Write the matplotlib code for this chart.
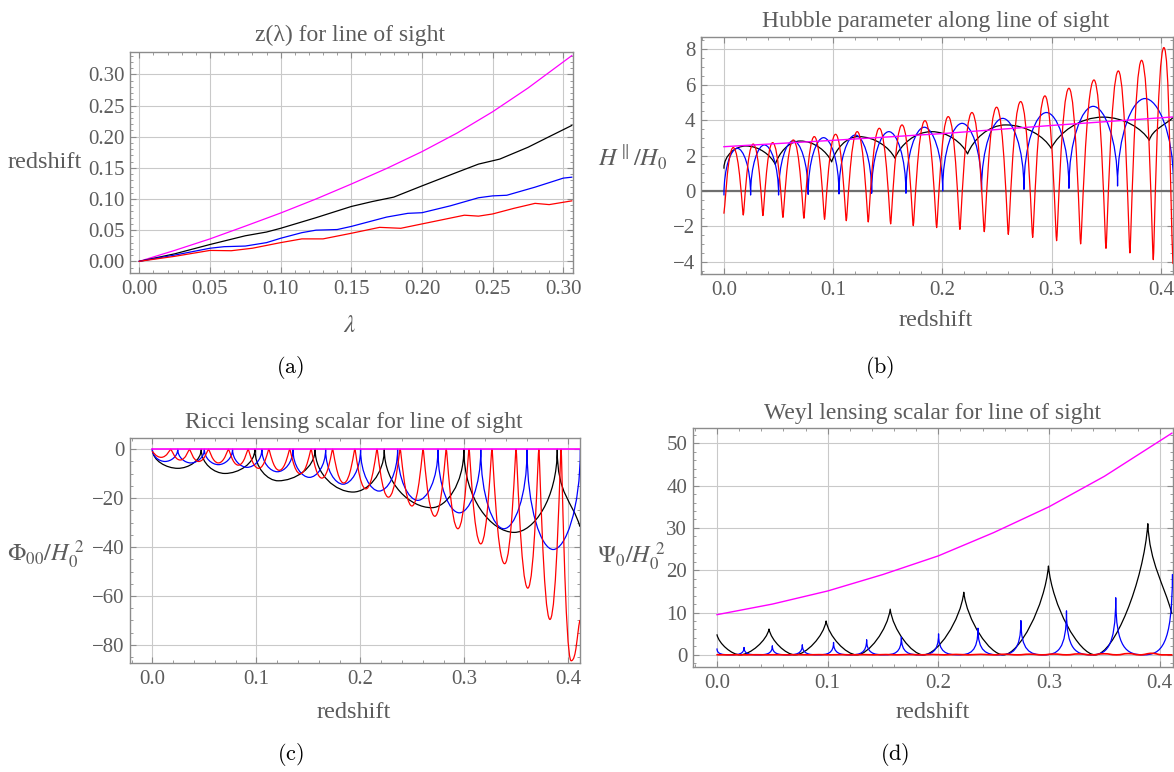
import matplotlib
matplotlib.use("Agg")
import matplotlib.pyplot as plt
from matplotlib.path import Path
from matplotlib.patches import PathPatch
from matplotlib.ticker import MultipleLocator, FormatStrFormatter

plt.rcParams['font.family'] = ['Liberation Serif', 'DejaVu Serif']
plt.rcParams['mathtext.fontset'] = 'stix'

# ---------------- (a) z(lambda) ----------------
lam_mag = [0.0, 0.025, 0.05, 0.075, 0.10, 0.125, 0.15, 0.175, 0.20, 0.225, 0.25, 0.275, 0.30, 0.306]
z_mag = [0.0, 0.0175, 0.036, 0.0565, 0.0775, 0.100, 0.124, 0.149, 0.176, 0.206, 0.240, 0.278, 0.320, 0.330]

lam_blk = [0.0, 0.025, 0.05, 0.075, 0.09, 0.10, 0.125, 0.15, 0.165, 0.18, 0.20, 0.225, 0.24, 0.255, 0.275, 0.29, 0.306]
z_blk = [0.0, 0.012, 0.027, 0.041, 0.047, 0.053, 0.070, 0.088, 0.096, 0.103, 0.121, 0.143, 0.156, 0.164, 0.183, 0.200, 0.218]

lam_blu = [0.0, 0.025, 0.05, 0.06, 0.075, 0.09, 0.10, 0.115, 0.125, 0.14, 0.15, 0.175, 0.19, 0.20,
           0.22, 0.24, 0.25, 0.26, 0.28, 0.30, 0.306]
z_blu = [0.0, 0.010, 0.021, 0.0235, 0.0245, 0.030, 0.037, 0.046, 0.050, 0.051, 0.056, 0.071, 0.077, 0.078,
         0.089, 0.102, 0.105, 0.106, 0.119, 0.1335, 0.135]

lam_red = [0.0, 0.025, 0.05, 0.065, 0.08, 0.10, 0.115, 0.13, 0.15, 0.17, 0.185, 0.20, 0.23, 0.24, 0.25,
           0.265, 0.28, 0.29, 0.306]
z_red = [0.0, 0.008, 0.0175, 0.017, 0.021, 0.030, 0.036, 0.036, 0.045, 0.0545, 0.053, 0.060, 0.074, 0.0725,
         0.076, 0.085, 0.093, 0.091, 0.097]

# ---------------- shared redshift positions ----------------
z_end = 0.411

# red: where H dips (narrow) and where it tops out
red_dip_z = [0.0, 0.0177, 0.0357, 0.054, 0.0732, 0.0921, 0.1120, 0.1321, 0.1526, 0.1733,
             0.1947, 0.2160, 0.2383, 0.2603, 0.2826, 0.3045, 0.3265, 0.3497, 0.3716, 0.3930]
red_top_z = [0.0085, 0.0268, 0.0446, 0.0635, 0.0827, 0.1022, 0.1220, 0.1422, 0.1630, 0.1840,
             0.2053, 0.2270, 0.2496, 0.2716, 0.2938, 0.3158, 0.3387, 0.3610, 0.3823, 0.4027]
# blue: cusps and arch tops
blue_cusp_z = [0.0, 0.0244, 0.0500, 0.0771, 0.1053, 0.1352, 0.1666, 0.2002, 0.2358, 0.2746,
               0.3158, 0.3603, 0.4115]
blue_arch_z = [0.0122, 0.0370, 0.0635, 0.0912, 0.1202, 0.1510, 0.1834, 0.2180, 0.2552, 0.2952,
               0.3380, 0.3854]
# black: cusps
black_cusp_z = [0.0470, 0.0986, 0.1565, 0.2230, 0.2995, 0.3893]

# ---------------- (b) Hubble parameter ----------------
H_red_dip = [-1.26, -1.36, -1.39, -1.49, -1.54, -1.60, -1.68, -1.75, -1.86, -1.96,
             -2.07, -2.17, -2.30, -2.45, -2.62, -2.81, -2.99, -3.24, -3.50, -3.88]
H_red_top = [2.45, 2.65, 2.73, 2.88, 3.07, 3.20, 3.35, 3.54, 3.73, 3.97,
             4.20, 4.43, 4.73, 5.05, 5.37, 5.80, 6.27, 6.78, 7.38, 8.10]
H_red_end = -4.1
H_blue_cusp = [-0.23, -0.23, -0.23, -0.19, -0.17, -0.13, -0.13, 0.0, 0.06, 0.09, 0.15, 0.28, 0.40]
H_blue_arch = [2.41, 2.60, 2.84, 3.01, 3.16, 3.35, 3.60, 3.82, 4.10, 4.43, 4.78, 5.22]
H_black_top_z = [0.020, 0.0698, 0.123, 0.190, 0.258, 0.347]
H_black_top = [2.54, 2.82, 3.07, 3.35, 3.73, 4.17]
H_black_cusp = [1.50, 1.64, 1.85, 2.09, 2.41, 2.86]
H_black_ends = [1.28, 4.14]
H_mag_z = [0.0, 0.1, 0.2, 0.3, 0.411]
H_mag = [2.50, 2.86, 3.24, 3.70, 4.18]

# ---------------- (c) Ricci lensing scalar ----------------
Phi_red_cap = [-1.0] + [0.0] * 19
Phi_red_min = [-3.3, -4.4, -5.0, -5.6, -6.5, -7.8, -8.6, -10.0, -11.8, -13.8,
               -16.2, -19.6, -23.2, -27.4, -32.5, -38.7, -46.8, -56.8, -69.6, -86.5]
Phi_red_end = -70.0
Phi_blue_min = [-5.0, -5.6, -6.3, -7.4, -9.2, -11.5, -14.3, -17.1, -20.9, -26.0, -32.5, -41.0]
Phi_black_min_z = [0.0246, 0.0698, 0.1210, 0.1930, 0.2686, 0.3480]
Phi_black_min = [-7.8, -9.9, -12.9, -17.5, -23.9, -34.0]
Phi_black_ends = [0.0, -31.5]

# ---------------- (d) Weyl lensing scalar ----------------
Psi_red_bump = [0.02, 0.02, 0.03, 0.03, 0.04, 0.05, 0.05, 0.06, 0.07, 0.08,
                0.09, 0.10, 0.12, 0.14, 0.16, 0.19, 0.22, 0.26, 0.30, 0.36]
Psi_blue_spike = [1.43, 1.75, 2.14, 2.38, 2.94, 3.57, 4.20, 4.96, 6.30, 8.10, 10.4, 13.5, 19.0]
Psi_black_min_z = [0.0208, 0.0705, 0.1263, 0.1865, 0.2588, 0.3418]
Psi_black_peak = [6.1, 8.0, 10.8, 14.8, 21.0, 31.0]
Psi_black_ends = [4.76, 9.8]
Psi_mag_z = [0.0, 0.05, 0.10, 0.15, 0.20, 0.25, 0.30, 0.35, 0.411]
Psi_mag = [9.5, 12.0, 15.1, 19.0, 23.4, 28.9, 35.0, 42.2, 52.4]

# tangent handles (fraction of dx, fraction of dy) for each knot style
SHAPE = {
    'h': (0.45, 0.0),   # rounded extremum
    'w': (0.6, 0.0),    # broad rounded extremum
    'n': (0.08, 0.0),   # narrow rounded extremum
    'm': (0.35, 0.0),
    'v': (0.0, 0.6),    # cusp, vertical tangent
    'k': (0.15, 0.5),   # V-shaped dip
    'p': (0.08, 0.45),  # sharp peak
    'q': (0.0, 0.9),    # needle spike
    'l': (1 / 3, 1 / 3),
}

GRAY = '#5c5c5c'
FRAME = '#8c8c8c'
W, Hpx = 1174, 772


def weave(a, b):
    out = []
    for i in range(max(len(a), len(b))):
        if i < len(a):
            out.append(a[i])
        if i < len(b):
            out.append(b[i])
    return out


def arches(ax, xs, ys, kinds, color, lw=0.9, z=3):
    verts = [(xs[0], ys[0])]
    codes = [Path.MOVETO]
    for i in range(len(xs) - 1):
        dx = xs[i + 1] - xs[i]
        dy = ys[i + 1] - ys[i]
        ax_, ay_ = SHAPE[kinds[i]]
        bx_, by_ = SHAPE[kinds[i + 1]]
        verts += [(xs[i] + ax_ * dx, ys[i] + ay_ * dy),
                  (xs[i + 1] - bx_ * dx, ys[i + 1] - by_ * dy),
                  (xs[i + 1], ys[i + 1])]
        codes += [Path.CURVE4] * 3
    ax.add_patch(PathPatch(Path(verts, codes), fill=False, ec=color, lw=lw, zorder=z,
                           joinstyle='round', capstyle='round'))


def frame(ax, xlim, ylim, xmaj, xmin, ymaj, ymin, xfmt, yfmt=None):
    ax.set_xlim(*xlim)
    ax.set_ylim(*ylim)
    ax.xaxis.set_major_locator(MultipleLocator(xmaj))
    ax.xaxis.set_minor_locator(MultipleLocator(xmin))
    ax.yaxis.set_major_locator(MultipleLocator(ymaj))
    ax.yaxis.set_minor_locator(MultipleLocator(ymin))
    ax.xaxis.set_major_formatter(FormatStrFormatter(xfmt))
    if yfmt:
        ax.yaxis.set_major_formatter(FormatStrFormatter(yfmt))
    for s in ax.spines.values():
        s.set_color(FRAME)
        s.set_linewidth(1.0)
    ax.tick_params(which='both', direction='in', top=True, right=True, color=FRAME,
                   labelcolor=GRAY, labelsize=15)
    ax.tick_params(which='major', length=4.5, width=0.8)
    ax.tick_params(which='minor', length=2.5, width=0.6)
    ax.tick_params(axis='x', pad=5)
    ax.tick_params(axis='y', pad=4)
    ax.grid(True, which='major', color='#c9c9c9', lw=0.8)
    ax.set_axisbelow(True)


def put(x, y, s, size=17, color=GRAY, **kw):
    fig.text(x / W, 1 - y / Hpx, s, ha='center', va='center', fontsize=size, color=color, **kw)


fig = plt.figure(figsize=(11.74, 7.72), dpi=100)
ax_a = fig.add_axes([0.1106, 0.6468, 0.3773, 0.2863])
ax_b = fig.add_axes([0.5971, 0.6451, 0.4020, 0.3066])
ax_c = fig.add_axes([0.1109, 0.1409, 0.3828, 0.2911])
ax_d = fig.add_axes([0.5901, 0.1364, 0.4090, 0.3096])

# (a)
frame(ax_a, (-0.0067, 0.3067), (-0.0182, 0.3364), 0.05, 0.01, 0.05, 0.01, '%.2f', '%.2f')
ax_a.plot(lam_mag, z_mag, color='magenta', lw=0.9)
ax_a.plot(lam_blk, z_blk, color='black', lw=0.9)
ax_a.plot(lam_blu, z_blu, color='blue', lw=0.9)
ax_a.plot(lam_red, z_red, color='red', lw=0.9)

# (b)
frame(ax_b, (-0.021, 0.411), (-4.69, 8.68), 0.1, 0.02, 2, 0.5, '%.1f')
ax_b.axhline(0, color='#6e6e6e', lw=1.6, zorder=2)
arches(ax_b, [0.0] + weave(H_black_top_z, black_cusp_z) + [z_end],
       [H_black_ends[0]] + weave(H_black_top, H_black_cusp) + [H_black_ends[1]],
       'v' + 'hk' * 6 + 'l', 'black')
arches(ax_b, weave(blue_cusp_z, blue_arch_z), weave(H_blue_cusp, H_blue_arch),
       'vh' * 12 + 'v', 'blue')
arches(ax_b, weave(red_dip_z, red_top_z) + [z_end], weave(H_red_dip, H_red_top) + [H_red_end],
       'nw' * 20 + 'l', 'red')
ax_b.plot(H_mag_z, H_mag, color='magenta', lw=1.0, zorder=4)

# (c)
frame(ax_c, (-0.0213, 0.4108), (-87.5, 4.4), 0.1, 0.02, 20, 5, '%.1f')
arches(ax_c, [0.0] + weave(Phi_black_min_z, black_cusp_z) + [z_end],
       [Phi_black_ends[0]] + weave(Phi_black_min, [0.0] * 6) + [Phi_black_ends[1]],
       'v' + 'hv' * 6 + 'l', 'black')
arches(ax_c, weave(blue_cusp_z, blue_arch_z), weave([0.0] * 13, Phi_blue_min),
       'vh' * 12 + 'v', 'blue')
arches(ax_c, weave(red_dip_z, red_top_z) + [z_end], weave(Phi_red_cap, Phi_red_min) + [Phi_red_end],
       'nw' * 20 + 'l', 'red')
ax_c.plot([0.0, z_end], [0.0, 0.0], color='magenta', lw=1.2, zorder=4)

# (d)
frame(ax_d, (-0.0219, 0.412), (-2.8, 53.7), 0.1, 0.02, 10, 2, '%.1f')
ax_d.plot(Psi_mag_z, Psi_mag, color='magenta', lw=1.0, zorder=4)
arches(ax_d, [0.0] + weave(Psi_black_min_z, black_cusp_z) + [z_end],
       [Psi_black_ends[0]] + weave([0.0] * 6, Psi_black_peak) + [Psi_black_ends[1]],
       'p' + 'mp' * 6 + 'l', 'black')
arches(ax_d, weave(blue_cusp_z, blue_arch_z), weave(Psi_blue_spike, [0.0] * 12),
       'qw' * 12 + 'q', 'blue')
arches(ax_d, weave(red_dip_z, red_top_z) + [z_end], weave(Psi_red_bump, [0.0] * 20) + [0.0],
       'h' * 41, 'red', lw=1.2)

# titles and axis labels
put(350, 35, 'z(λ) for line of sight')
put(45, 163, 'redshift', size=17.5)
put(350, 326, r'$\lambda$', size=18)
put(936, 22, 'Hubble parameter along line of sight')
put(633, 158, r'$H^{\parallel}/H_0$', size=17.5)
put(936, 321, 'redshift', size=17.5)
put(354, 422, 'Ricci lensing scalar for line of sight')
put(46, 555, r'$\Phi_{00}/H_0^{\ 2}$', size=17.5)
put(354, 713, 'redshift', size=17.5)
put(933, 413, 'Weyl lensing scalar for line of sight')
put(632, 557, r'$\Psi_0/H_0^{\ 2}$', size=17.5)
put(933, 713, 'redshift', size=17.5)

# panel tags
for (x, y), tag in zip([(290, 368), (880, 368), (290, 755), (895, 755)], 'abcd'):
    put(x, y, r'$\mathrm{(%s)}$' % tag, size=16, color='black', math_fontfamily='cm')

fig.savefig('out.png', dpi=100)
